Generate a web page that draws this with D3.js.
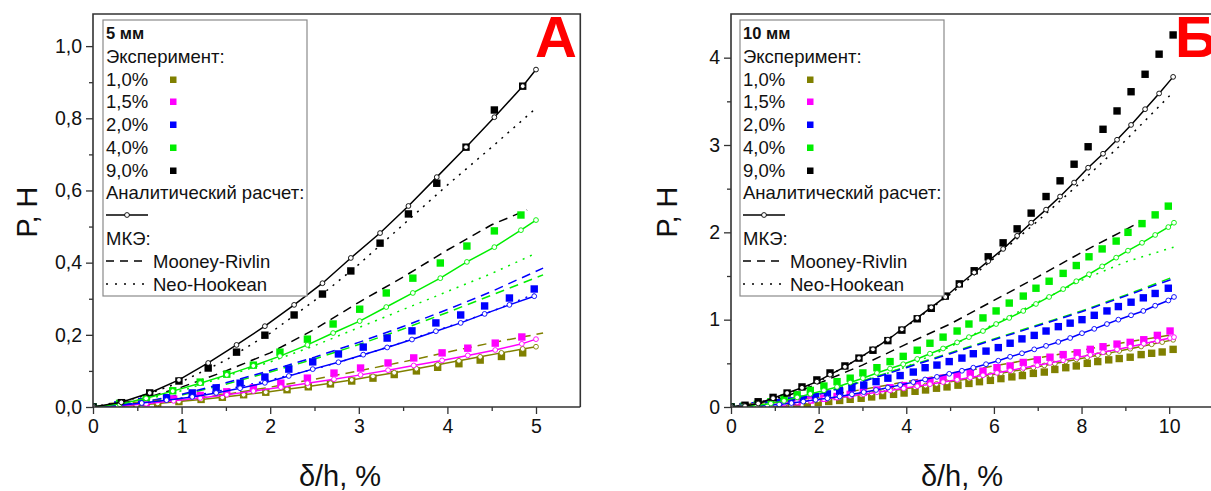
<!DOCTYPE html>
<html>
<head>
<meta charset="utf-8">
<script src="https://cdn.jsdelivr.net/npm/d3@7"></script>
<style>
body { margin: 0; background: #fff; }
svg { display: block; font-family: "Liberation Sans", Arial, sans-serif; }
</style>
</head>
<body>
<svg id="chart" width="1211" height="491"></svg>
<script>
// ---------- data: 5 мм (left panel) ----------
const labels = ["1,0%", "1,5%", "2,0%", "4,0%", "9,0%"];

const L_x10 = [0, 0.24, 0.49, 0.73, 0.97, 1.22, 1.46, 1.70, 1.95, 2.19, 2.43, 2.68, 2.92, 3.16, 3.40, 3.65, 3.89, 4.13, 4.37, 4.61, 4.85];
const L_exp10 = [0, 0.002, 0.005, 0.010, 0.015, 0.021, 0.027, 0.034, 0.041, 0.048, 0.056, 0.064, 0.072, 0.080, 0.090, 0.100, 0.110, 0.120, 0.130, 0.140, 0.150];
const L_anX10 = [0, 0.24, 0.49, 0.73, 0.97, 1.22, 1.46, 1.70, 1.95, 2.19, 2.43, 2.68, 2.92, 3.16, 3.40, 3.65, 3.89, 4.13, 4.37, 4.61, 4.85, 5.0];
const L_an10 = [0, 0.002, 0.005, 0.010, 0.015, 0.021, 0.027, 0.034, 0.041, 0.049, 0.057, 0.066, 0.075, 0.085, 0.095, 0.106, 0.117, 0.128, 0.139, 0.150, 0.161, 0.167];

const L_x15 = [0, 0.30, 0.60, 0.91, 1.21, 1.51, 1.81, 2.12, 2.42, 2.72, 3.02, 3.33, 3.62, 3.94, 4.23, 4.54, 4.84];
const L_exp15 = [0, 0.004, 0.012, 0.022, 0.032, 0.042, 0.053, 0.066, 0.080, 0.094, 0.108, 0.122, 0.136, 0.150, 0.163, 0.177, 0.194];
const L_anX15 = [0, 0.30, 0.60, 0.91, 1.21, 1.51, 1.81, 2.12, 2.42, 2.72, 3.02, 3.33, 3.62, 3.94, 4.23, 4.54, 4.84, 5.0];
const L_an15 = [0, 0.003, 0.009, 0.017, 0.025, 0.034, 0.044, 0.055, 0.066, 0.077, 0.089, 0.102, 0.115, 0.129, 0.143, 0.158, 0.175, 0.188];

const L_x20 = [0, 0.28, 0.55, 0.83, 1.12, 1.39, 1.66, 1.94, 2.21, 2.48, 2.77, 3.05, 3.32, 3.60, 3.87, 4.15, 4.42, 4.70, 4.98];
const L_exp20 = [0, 0.006, 0.015, 0.026, 0.039, 0.053, 0.066, 0.083, 0.105, 0.125, 0.147, 0.166, 0.191, 0.211, 0.233, 0.255, 0.280, 0.302, 0.327];
const L_an20 = [0, 0.004, 0.011, 0.019, 0.028, 0.039, 0.052, 0.067, 0.086, 0.105, 0.124, 0.145, 0.165, 0.187, 0.210, 0.233, 0.258, 0.283, 0.307];

const L_x40 = [0, 0.30, 0.60, 0.90, 1.21, 1.51, 1.81, 2.11, 2.42, 2.71, 3.01, 3.31, 3.61, 3.92, 4.22, 4.53, 4.83];
const L_exp40 = [0, 0.010, 0.025, 0.045, 0.069, 0.091, 0.116, 0.152, 0.188, 0.230, 0.271, 0.316, 0.357, 0.399, 0.446, 0.488, 0.532];
const L_anX40 = [0, 0.30, 0.60, 0.90, 1.21, 1.51, 1.81, 2.11, 2.42, 2.71, 3.01, 3.31, 3.61, 3.92, 4.22, 4.53, 4.83, 5.0];
const L_an40 = [0, 0.008, 0.024, 0.044, 0.066, 0.089, 0.114, 0.141, 0.172, 0.205, 0.238, 0.277, 0.316, 0.357, 0.402, 0.443, 0.490, 0.518];

const L_x90 = [0, 0.32, 0.64, 0.97, 1.30, 1.62, 1.94, 2.27, 2.59, 2.91, 3.24, 3.56, 3.88, 4.21, 4.53, 4.85];
const L_exp90 = [0, 0.012, 0.039, 0.072, 0.108, 0.152, 0.199, 0.255, 0.313, 0.377, 0.454, 0.535, 0.620, 0.720, 0.823, 0.889];
const L_anX90 = [0, 0.32, 0.64, 0.97, 1.30, 1.62, 1.94, 2.27, 2.59, 2.91, 3.24, 3.56, 3.88, 4.21, 4.53, 4.85, 5.0];
const L_an90 = [0, 0.013, 0.039, 0.075, 0.122, 0.172, 0.224, 0.283, 0.343, 0.413, 0.482, 0.557, 0.637, 0.720, 0.803, 0.889, 0.935];

// МКЭ (FEM) curves, left
const L_fx = [0, 0.5, 1.0, 1.5, 2.0, 2.5, 3.0, 3.5, 4.0, 4.5, 5.0];
const L_fxLong = [0, 0.5, 1.0, 1.5, 2.0, 2.5, 3.0, 3.5, 4.0, 4.5, 5.08];
const L_fxShort = [0, 0.5, 1.0, 1.5, 2.0, 2.5, 3.0, 3.5, 4.0, 4.5, 4.9];
const L_mr10 = [0, 0.005, 0.018, 0.035, 0.055, 0.077, 0.100, 0.125, 0.152, 0.178, 0.205];
const L_mr20 = [0, 0.010, 0.035, 0.067, 0.101, 0.138, 0.179, 0.223, 0.270, 0.320, 0.385];
const L_mr40 = [0, 0.010, 0.033, 0.063, 0.097, 0.133, 0.173, 0.216, 0.262, 0.310, 0.366];
const L_mr90 = [0, 0.018, 0.055, 0.100, 0.150, 0.215, 0.290, 0.360, 0.435, 0.505, 0.546];
const L_nh20 = [0, 0.007, 0.025, 0.048, 0.075, 0.105, 0.140, 0.180, 0.222, 0.265, 0.315];
const L_nh40 = [0, 0.015, 0.045, 0.085, 0.125, 0.170, 0.220, 0.270, 0.320, 0.370, 0.426];
const L_nh90 = [0, 0.025, 0.070, 0.130, 0.205, 0.295, 0.395, 0.505, 0.615, 0.720, 0.828];

// ---------- data: 10 мм (right panel) ----------
const R_x10 = [0, 0.27, 0.51, 0.76, 1.01, 1.25, 1.50, 1.74, 1.99, 2.23, 2.48, 2.72, 2.97, 3.21, 3.46, 3.71, 3.95, 4.20, 4.44, 4.69, 4.93, 5.18, 5.43, 5.67, 5.92, 6.16, 6.41, 6.65, 6.90, 7.15, 7.39, 7.64, 7.88, 8.13, 8.37, 8.62, 8.86, 9.11, 9.36, 9.60, 9.84, 10.09];
const R_exp10 = [0, 0.002, 0.006, 0.011, 0.017, 0.024, 0.033, 0.042, 0.052, 0.063, 0.075, 0.088, 0.100, 0.115, 0.130, 0.145, 0.160, 0.180, 0.195, 0.215, 0.230, 0.250, 0.270, 0.290, 0.305, 0.325, 0.345, 0.360, 0.385, 0.400, 0.430, 0.450, 0.470, 0.500, 0.520, 0.540, 0.555, 0.570, 0.600, 0.615, 0.630, 0.660];
const R_an10 = [0, 0.005, 0.012, 0.021, 0.031, 0.041, 0.053, 0.066, 0.079, 0.093, 0.108, 0.123, 0.139, 0.155, 0.172, 0.189, 0.207, 0.226, 0.244, 0.264, 0.282, 0.303, 0.323, 0.344, 0.365, 0.385, 0.408, 0.429, 0.452, 0.476, 0.497, 0.521, 0.545, 0.569, 0.593, 0.617, 0.642, 0.667, 0.693, 0.718, 0.743, 0.769];

const R_x15 = [0, 0.30, 0.60, 0.91, 1.21, 1.51, 1.81, 2.12, 2.42, 2.72, 3.02, 3.33, 3.63, 3.94, 4.25, 4.54, 4.84, 5.16, 5.46, 5.75, 6.07, 6.37, 6.67, 6.99, 7.28, 7.58, 7.90, 8.20, 8.49, 8.81, 9.11, 9.42, 9.73, 10.02];
const R_exp15 = [0, 0.004, 0.012, 0.025, 0.040, 0.060, 0.080, 0.100, 0.120, 0.145, 0.170, 0.195, 0.220, 0.245, 0.270, 0.300, 0.330, 0.360, 0.390, 0.410, 0.450, 0.470, 0.510, 0.540, 0.570, 0.600, 0.620, 0.660, 0.690, 0.720, 0.740, 0.770, 0.820, 0.870];
const R_anX15 = [0, 0.30, 0.60, 0.91, 1.21, 1.51, 1.81, 2.12, 2.42, 2.72, 3.02, 3.33, 3.63, 3.94, 4.25, 4.54, 4.84, 5.16, 5.46, 5.75, 6.07, 6.37, 6.67, 6.99, 7.28, 7.58, 7.90, 8.20, 8.49, 8.81, 9.11, 9.42, 9.73, 10.02, 10.11];
const R_an15 = [0, 0.006, 0.015, 0.028, 0.041, 0.056, 0.072, 0.090, 0.108, 0.127, 0.147, 0.169, 0.190, 0.214, 0.238, 0.261, 0.285, 0.312, 0.338, 0.363, 0.391, 0.419, 0.447, 0.477, 0.505, 0.535, 0.566, 0.597, 0.626, 0.659, 0.691, 0.725, 0.758, 0.790, 0.800];

const R_x20 = [0, 0.28, 0.55, 0.83, 1.10, 1.38, 1.65, 1.93, 2.20, 2.48, 2.76, 3.03, 3.31, 3.58, 3.86, 4.16, 4.43, 4.70, 4.98, 5.27, 5.53, 5.82, 6.10, 6.37, 6.64, 6.92, 7.19, 7.47, 7.74, 8.01, 8.29, 8.58, 8.84, 9.13, 9.41, 9.68, 9.98];
const R_exp20 = [0, 0.005, 0.015, 0.030, 0.050, 0.070, 0.090, 0.120, 0.150, 0.180, 0.220, 0.250, 0.290, 0.330, 0.360, 0.400, 0.450, 0.480, 0.520, 0.560, 0.610, 0.640, 0.680, 0.730, 0.780, 0.820, 0.870, 0.920, 0.960, 1.000, 1.050, 1.100, 1.150, 1.200, 1.250, 1.300, 1.360];
const R_anX20 = [0, 0.28, 0.55, 0.83, 1.10, 1.38, 1.65, 1.93, 2.20, 2.48, 2.76, 3.03, 3.31, 3.58, 3.86, 4.16, 4.43, 4.70, 4.98, 5.27, 5.53, 5.82, 6.10, 6.37, 6.64, 6.92, 7.19, 7.47, 7.74, 8.01, 8.29, 8.58, 8.84, 9.13, 9.41, 9.68, 9.98, 10.11];
const R_an20 = [0, 0.003, 0.010, 0.020, 0.030, 0.045, 0.062, 0.082, 0.100, 0.120, 0.145, 0.170, 0.195, 0.222, 0.252, 0.285, 0.315, 0.345, 0.380, 0.415, 0.450, 0.490, 0.530, 0.575, 0.615, 0.660, 0.700, 0.745, 0.790, 0.845, 0.895, 0.950, 1.000, 1.050, 1.100, 1.160, 1.220, 1.260];

const R_x40 = [0, 0.30, 0.60, 0.91, 1.21, 1.51, 1.81, 2.12, 2.42, 2.72, 3.01, 3.33, 3.63, 3.93, 4.25, 4.54, 4.84, 5.16, 5.43, 5.75, 6.05, 6.35, 6.67, 6.96, 7.26, 7.58, 7.88, 8.17, 8.47, 8.79, 9.06, 9.38, 9.68, 9.98];
const R_exp40 = [0, 0.010, 0.030, 0.060, 0.100, 0.140, 0.190, 0.240, 0.290, 0.330, 0.390, 0.450, 0.520, 0.580, 0.650, 0.730, 0.800, 0.870, 0.950, 1.020, 1.100, 1.190, 1.270, 1.360, 1.440, 1.530, 1.620, 1.720, 1.810, 1.900, 2.000, 2.100, 2.200, 2.300];
const R_anX40 = [0, 0.30, 0.60, 0.91, 1.21, 1.51, 1.81, 2.12, 2.42, 2.72, 3.01, 3.33, 3.63, 3.93, 4.25, 4.54, 4.84, 5.16, 5.43, 5.75, 6.05, 6.35, 6.67, 6.96, 7.26, 7.58, 7.88, 8.17, 8.47, 8.79, 9.06, 9.38, 9.68, 9.98, 10.11];
const R_an40 = [0, 0.005, 0.020, 0.040, 0.070, 0.110, 0.150, 0.190, 0.230, 0.280, 0.330, 0.390, 0.440, 0.490, 0.550, 0.610, 0.670, 0.740, 0.800, 0.870, 0.950, 1.020, 1.100, 1.180, 1.260, 1.350, 1.440, 1.520, 1.610, 1.710, 1.790, 1.880, 1.970, 2.060, 2.110];

const R_x90 = [0, 0.32, 0.62, 0.96, 1.28, 1.62, 1.96, 2.26, 2.60, 2.92, 3.24, 3.58, 3.90, 4.25, 4.57, 4.89, 5.21, 5.55, 5.87, 6.21, 6.53, 6.85, 7.19, 7.51, 7.83, 8.15, 8.49, 8.81, 9.13, 9.45, 9.77, 10.09];
const R_exp90 = [0, 0.02, 0.06, 0.11, 0.16, 0.23, 0.31, 0.39, 0.47, 0.56, 0.65, 0.76, 0.88, 1.01, 1.13, 1.27, 1.41, 1.56, 1.72, 1.88, 2.04, 2.22, 2.41, 2.59, 2.78, 2.98, 3.18, 3.39, 3.61, 3.81, 4.04, 4.26];
const R_an90 = [0, 0.01, 0.04, 0.10, 0.16, 0.22, 0.29, 0.37, 0.46, 0.56, 0.66, 0.77, 0.89, 1.02, 1.14, 1.26, 1.40, 1.54, 1.67, 1.81, 1.96, 2.11, 2.26, 2.41, 2.57, 2.74, 2.90, 3.06, 3.23, 3.41, 3.59, 3.78];

// МКЭ (FEM) curves, right
const R_fx = [0, 1, 2, 3, 4, 5, 6, 7, 8, 9, 10.1];
const R_fxMR90 = [0, 1, 2, 3, 4, 5, 6, 7, 8, 9, 9.34];
const R_mr10 = [0, 0.04, 0.12, 0.20, 0.29, 0.38, 0.47, 0.56, 0.65, 0.74, 0.83];
const R_mr20 = [0, 0.04, 0.14, 0.29, 0.45, 0.61, 0.77, 0.93, 1.09, 1.27, 1.47];
const R_mr40 = [0, 0.04, 0.15, 0.30, 0.46, 0.62, 0.78, 0.94, 1.10, 1.28, 1.49];
const R_mr90 = [0, 0.07, 0.27, 0.48, 0.72, 0.95, 1.22, 1.49, 1.77, 2.03, 2.12];
const R_nh40 = [0, 0.05, 0.15, 0.29, 0.46, 0.69, 0.95, 1.20, 1.45, 1.66, 1.83];
const R_nh90 = [0, 0.09, 0.29, 0.58, 0.92, 1.29, 1.70, 2.13, 2.58, 3.05, 3.61];

// ---------- styles ----------
const colors = ["#808000", "#ff00ff", "#0000ff", "#00ee00", "#000000"];
const zip = (xs, ys) => xs.map((v, i) => [v, ys[i]]);

const svg = d3.select("#chart");

function drawPanel(p) {
    const x = d3.scaleLinear().domain(p.xDomain).range(p.xRange);
    const y = d3.scaleLinear().domain(p.yDomain).range([407, 14]);
    const g = svg.append("g");

    const clipId = "clip-" + p.id;
    svg.append("clipPath").attr("id", clipId)
        .append("rect").attr("x", p.xRange[0]).attr("y", 14)
        .attr("width", p.xRange[1] - p.xRange[0]).attr("height", 393);

    const plot = g.append("g").attr("clip-path", `url(#${clipId})`);
    const line = d3.line().x(d => x(d[0])).y(d => y(d[1]));

    // МКЭ lines
    p.fem.forEach(f => {
        plot.append("path")
            .attr("d", line(zip(f.x, f.y)))
            .attr("fill", "none")
            .attr("stroke", colors[f.c])
            .attr("stroke-width", 1.5)
            .attr("stroke-dasharray", f.type === "mr" ? "9,6" : "2,6");
    });

    // experiment squares
    p.exp.forEach(s => {
        plot.append("g").selectAll("rect")
            .data(zip(s.x, s.y))
            .join("rect")
            .attr("x", d => x(d[0]) - 3.7)
            .attr("y", d => y(d[1]) - 3.7)
            .attr("width", 7.4).attr("height", 7.4)
            .attr("fill", colors[s.c]);
    });

    // analytic lines with open circles
    p.an.forEach(s => {
        const pts = zip(s.x, s.y);
        plot.append("path")
            .attr("d", line(pts))
            .attr("fill", "none")
            .attr("stroke", colors[s.c])
            .attr("stroke-width", 1.5);
        plot.append("g").selectAll("circle")
            .data(pts)
            .join("circle")
            .attr("cx", d => x(d[0]))
            .attr("cy", d => y(d[1]))
            .attr("r", 2.4)
            .attr("fill", "#fff")
            .attr("stroke", colors[s.c])
            .attr("stroke-width", 0.9);
    });

    // axes
    const axisColor = "#333";
    g.append("g").attr("transform", "translate(0,407)")
        .call(d3.axisBottom(x).tickValues(p.xTicks).tickSize(7).tickPadding(5).tickFormat(p.xFmt));
    g.append("g").attr("transform", "translate(0,407)")
        .call(d3.axisBottom(x).tickValues(p.xMinor).tickSize(4).tickFormat(""));
    g.append("g").attr("transform", `translate(${p.xRange[0]},0)`)
        .call(d3.axisLeft(y).tickValues(p.yTicks).tickSize(7).tickPadding(4).tickFormat(p.yFmt));
    g.append("g").attr("transform", `translate(${p.xRange[0]},0)`)
        .call(d3.axisLeft(y).tickValues(p.yMinor).tickSize(4).tickFormat(""));
    g.selectAll(".domain").remove();
    g.selectAll(".tick line").attr("stroke", axisColor).attr("stroke-width", 1.3);
    g.selectAll(".tick text").attr("font-size", 19.5).attr("fill", "#111")
        .attr("font-family", "Liberation Sans, Arial, sans-serif");

    // frame
    g.append("path")
        .attr("d", `M${p.xRange[0]},407 V14 H${p.frameRight}` + (p.showRight ? ` V407` : "") + ` M${p.xRange[0]},407 H${p.frameRight}`)
        .attr("fill", "none").attr("stroke", axisColor).attr("stroke-width", 1.6);

    // axis titles
    g.append("text")
        .attr("transform", `translate(${p.yTitleX},212) rotate(-90)`)
        .attr("text-anchor", "middle")
        .attr("font-size", 29).attr("fill", "#111")
        .text("Р, Н");
    g.append("text")
        .attr("x", p.xTitleX).attr("y", 486)
        .attr("text-anchor", "middle")
        .attr("font-size", 29).attr("fill", "#111")
        .text("δ/h, %");

    // legend
    const fs = 18.5;
    const lg = g.append("g").attr("transform", `translate(${p.legendX},20)`);
    lg.append("rect").attr("x", 0).attr("y", 0).attr("width", 204).attr("height", 276)
        .attr("fill", "#fff").attr("stroke", "#8a8a8a").attr("stroke-width", 1.2);
    lg.append("text").attr("x", 3).attr("y", 19).attr("font-size", 16.5).attr("font-weight", "bold")
        .attr("fill", "#111").text(p.title);
    const rowY = [43, 66, 88, 111, 134, 157, 179];
    lg.append("text").attr("x", 3).attr("y", rowY[0]).attr("font-size", fs).attr("fill", "#111").text("Эксперимент:");
    labels.forEach((l, i) => {
        lg.append("text").attr("x", 3).attr("y", rowY[i + 1]).attr("font-size", fs).attr("fill", "#111").text(l);
        lg.append("rect").attr("x", 67).attr("y", rowY[i + 1] - 9.5).attr("width", 6.5).attr("height", 6.5)
            .attr("fill", colors[i]);
    });
    lg.append("text").attr("x", 3).attr("y", rowY[6]).attr("font-size", fs).attr("fill", "#111").text("Аналитический расчет:");
    lg.append("line").attr("x1", 3).attr("x2", 45).attr("y1", 195).attr("y2", 195)
        .attr("stroke", "#000").attr("stroke-width", 1.5);
    lg.append("circle").attr("cx", 24).attr("cy", 195).attr("r", 2.4)
        .attr("fill", "#fff").attr("stroke", "#000").attr("stroke-width", 0.9);
    lg.append("text").attr("x", 3).attr("y", 225).attr("font-size", fs).attr("fill", "#111").text("МКЭ:");
    lg.append("line").attr("x1", 3).attr("x2", 45).attr("y1", 241).attr("y2", 241)
        .attr("stroke", "#000").attr("stroke-width", 1.5).attr("stroke-dasharray", "8,6");
    lg.append("text").attr("x", 50).attr("y", 247.5).attr("font-size", fs).attr("fill", "#111").text("Mooney-Rivlin");
    lg.append("line").attr("x1", 3).attr("x2", 45).attr("y1", 264).attr("y2", 264)
        .attr("stroke", "#000").attr("stroke-width", 1.5).attr("stroke-dasharray", "2,7");
    lg.append("text").attr("x", 50).attr("y", 270.5).attr("font-size", fs).attr("fill", "#111").text("Neo-Hookean");

    // panel letter
    g.append("text").attr("x", p.letterX).attr("y", 57)
        .attr("font-size", 58).attr("font-weight", "bold").attr("fill", "#ff0000")
        .text(p.letter);
}

drawPanel({
    id: "a", title: "5 мм", letter: "А", letterX: 535,
    xDomain: [0, 5.5], xRange: [93, 580.3], yDomain: [0, 1.089],
    frameRight: 580.3, showRight: true,
    xTicks: [0, 1, 2, 3, 4, 5], xMinor: [0.5, 1.5, 2.5, 3.5, 4.5],
    yTicks: [0, 0.2, 0.4, 0.6, 0.8, 1.0], yMinor: [0.1, 0.3, 0.5, 0.7, 0.9],
    xFmt: d3.format("d"), yFmt: d => d.toFixed(1).replace(".", ","),
    yTitleX: 37, xTitleX: 340, legendX: 103,
    exp: [
        { x: L_x10, y: L_exp10, c: 0 }, { x: L_x15, y: L_exp15, c: 1 },
        { x: L_x20, y: L_exp20, c: 2 }, { x: L_x40, y: L_exp40, c: 3 },
        { x: L_x90, y: L_exp90, c: 4 }
    ],
    an: [
        { x: L_anX10, y: L_an10, c: 0 }, { x: L_anX15, y: L_an15, c: 1 },
        { x: L_x20, y: L_an20, c: 2 }, { x: L_anX40, y: L_an40, c: 3 },
        { x: L_anX90, y: L_an90, c: 4 }
    ],
    fem: [
        { x: L_fxLong, y: L_mr10, c: 0, type: "mr" },
        { x: L_fx, y: L_nh20, c: 2, type: "nh" },
        { x: L_fx, y: L_nh40, c: 3, type: "nh" },
        { x: L_fx, y: L_nh90, c: 4, type: "nh" },
        { x: L_fxLong, y: L_mr40, c: 3, type: "mr" },
        { x: L_fxLong, y: L_mr20, c: 2, type: "mr" },
        { x: L_fxShort, y: L_mr90, c: 4, type: "mr" }
    ]
});

drawPanel({
    id: "b", title: "10 мм", letter: "Б", letterX: 1175,
    xDomain: [0, 11], xRange: [731, 1213], yDomain: [0, 4.5],
    frameRight: 1213, showRight: false,
    xTicks: [0, 2, 4, 6, 8, 10], xMinor: [1, 3, 5, 7, 9],
    yTicks: [0, 1, 2, 3, 4], yMinor: [0.5, 1.5, 2.5, 3.5],
    xFmt: d3.format("d"), yFmt: d3.format("d"),
    yTitleX: 677, xTitleX: 962, legendX: 740,
    exp: [
        { x: R_x10, y: R_exp10, c: 0 }, { x: R_x15, y: R_exp15, c: 1 },
        { x: R_x20, y: R_exp20, c: 2 }, { x: R_x40, y: R_exp40, c: 3 },
        { x: R_x90, y: R_exp90, c: 4 }
    ],
    an: [
        { x: R_x10, y: R_an10, c: 0 }, { x: R_anX15, y: R_an15, c: 1 },
        { x: R_anX20, y: R_an20, c: 2 }, { x: R_anX40, y: R_an40, c: 3 },
        { x: R_x90, y: R_an90, c: 4 }
    ],
    fem: [
        { x: R_fx, y: R_mr10, c: 0, type: "mr" },
        { x: R_fx, y: R_nh40, c: 3, type: "nh" },
        { x: R_fx, y: R_nh90, c: 4, type: "nh" },
        { x: R_fx, y: R_mr40, c: 3, type: "mr" },
        { x: R_fx, y: R_mr20, c: 2, type: "mr" },
        { x: R_fxMR90, y: R_mr90, c: 4, type: "mr" }
    ]
});
</script>
</body>
</html>
